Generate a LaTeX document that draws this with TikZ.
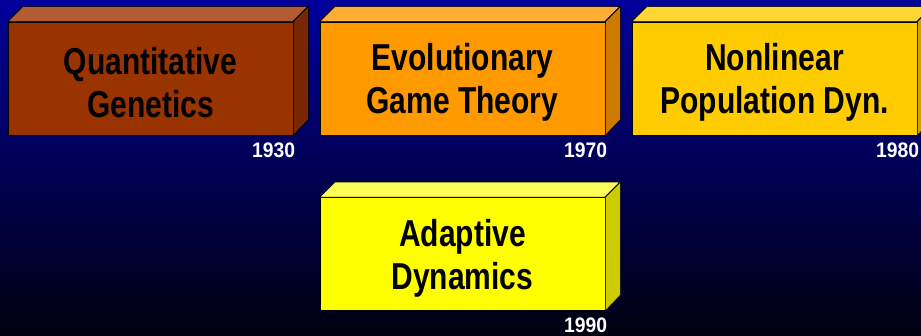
\documentclass[tikz,border=0pt]{standalone}
\usepackage{fontspec}
\newfontfamily\boxfont[FakeStretch=0.8]{Liberation Sans}
\newfontfamily\yearfont[FakeStretch=0.92]{Liberation Sans}
\definecolor{bgtop}{RGB}{0,0,155}
\definecolor{bgbot}{RGB}{0,0,15}
\definecolor{qgfront}{RGB}{153,51,0}
\definecolor{qgtop}{RGB}{178,92,51}
\definecolor{qgside}{RGB}{120,40,0}
\definecolor{egfront}{RGB}{255,153,0}
\definecolor{egtop}{RGB}{255,175,51}
\definecolor{egside}{RGB}{204,122,0}
\definecolor{npfront}{RGB}{255,204,0}
\definecolor{nptop}{RGB}{255,214,51}
\definecolor{npside}{RGB}{204,163,0}
\definecolor{adfront}{RGB}{255,255,0}
\definecolor{adtop}{RGB}{255,255,90}
\definecolor{adside}{RGB}{204,204,0}
\newcommand{\boxlabel}[2]{\raisebox{-4pt}[\height][\depth]{\parbox{285pt}{\centering #1\\#2}}}
\tikzset{
  front/.style={draw=black, line width=0.6pt, inner sep=0pt, minimum width=285pt, minimum height=113pt,
    align=center, font=\boxfont\bfseries\fontsize{37.5}{43}\selectfont, text=black},
  face/.style={draw=black, line width=0.6pt, line join=round},
  year/.style={inner sep=0pt, text=white, font=\yearfont\bfseries\fontsize{21}{23}\selectfont}
}
\begin{document}
\begin{tikzpicture}[x=1pt, y=-1pt]
\useasboundingbox (0,0) rectangle (921,336);
\clip (0,0) rectangle (921,336);
\shade[top color=bgtop, bottom color=bgbot] (0,0) rectangle (921,336);

\node[front, fill=qgfront] (qg) at (150.5,78.5) {\boxlabel{Quantitative}{Genetics}};
\node[front, fill=egfront] (eg) at (462.5,78.5) {\boxlabel{Evolutionary}{Game Theory}};
\node[front, fill=npfront] (np) at (774.5,78.5) {\boxlabel{Nonlinear}{Population Dyn.}};
\node[front, fill=adfront] (ad) at (462.5,254) {\boxlabel{Adaptive}{Dynamics}};

\filldraw[face, fill=qgtop] (qg.north west) -- ++(15,-15) -- ++(285,0) -- ++(-15,15) -- cycle;
\filldraw[face, fill=qgside] (qg.north east) -- ++(15,-15) -- ++(0,113) -- (qg.south east) -- cycle;
\filldraw[face, fill=egtop] (eg.north west) -- ++(15,-15) -- ++(285,0) -- ++(-15,15) -- cycle;
\filldraw[face, fill=egside] (eg.north east) -- ++(15,-15) -- ++(0,113) -- (eg.south east) -- cycle;
\filldraw[face, fill=nptop] (np.north west) -- ++(15,-15) -- ++(285,0) -- ++(-15,15) -- cycle;
\filldraw[face, fill=npside] (np.north east) -- ++(15,-15) -- ++(0,113) -- (np.south east) -- cycle;
\filldraw[face, fill=adtop] (ad.north west) -- ++(15,-15) -- ++(285,0) -- ++(-15,15) -- cycle;
\filldraw[face, fill=adside] (ad.north east) -- ++(15,-15) -- ++(0,113) -- (ad.south east) -- cycle;

\node[year, anchor=base east] (y1) at ([xshift=2pt,yshift=-22pt]qg.south east) {1930};
\node[year, anchor=base east] (y2) at ([xshift=2pt,yshift=-22pt]eg.south east) {1970};
\node[year, anchor=base east] (y3) at ([xshift=2pt,yshift=-22pt]np.south east) {1980};
\node[year, anchor=base east] (y4) at ([xshift=2pt,yshift=-22pt]ad.south east) {1990};
\end{tikzpicture}
\end{document}
